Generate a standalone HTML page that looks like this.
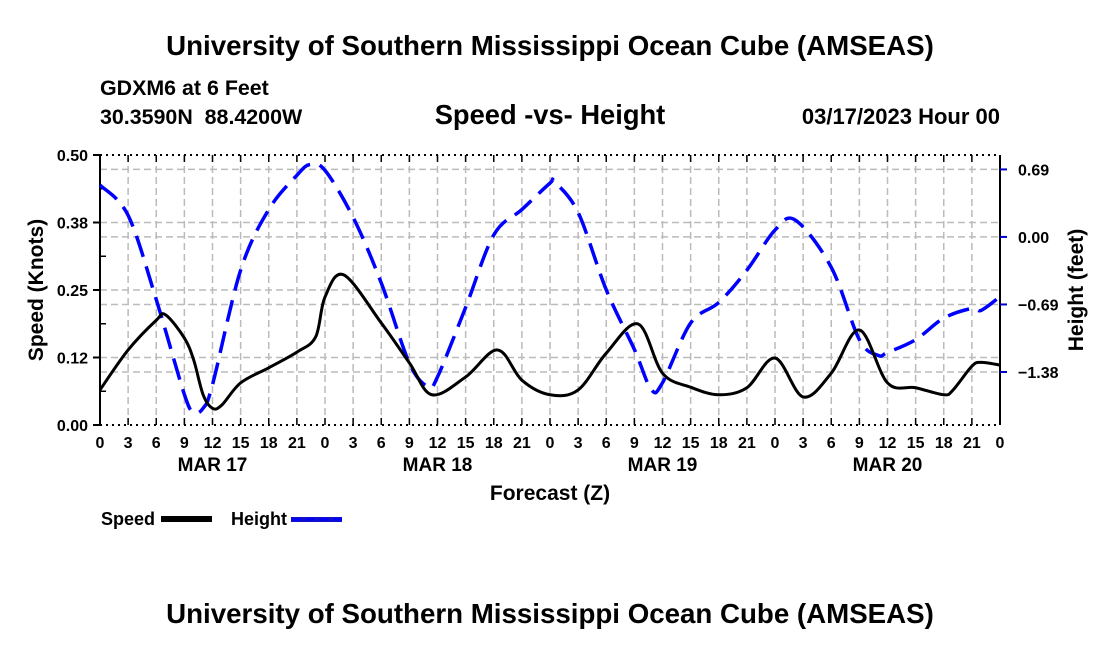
<!DOCTYPE html>
<html><head><meta charset="utf-8"><style>
html,body{margin:0;padding:0;background:#fff;}
svg{display:block;font-family:"Liberation Sans",sans-serif;font-weight:bold;}
</style></head><body>
<svg id="chart" width="1100" height="650" viewBox="0 0 1100 650">
<text x="550" y="55" text-anchor="middle" font-size="27.7">University of Southern Mississippi Ocean Cube (AMSEAS)</text>
<text x="100" y="95" font-size="21.4">GDXM6 at 6 Feet</text>
<text x="100" y="124" font-size="21.4" xml:space="preserve" style="white-space:pre">30.3590N  88.4200W</text>
<text x="550" y="124" text-anchor="middle" font-size="27.3">Speed -vs- Height</text>
<text x="1000" y="124" text-anchor="end" font-size="22">03/17/2023 Hour 00</text>
<g id="grid"></g>
<g id="axes"></g>
<g id="series"></g>
<text x="550" y="500" text-anchor="middle" font-size="21">Forecast (Z)</text>
<text transform="translate(43,290) rotate(-90)" text-anchor="middle" font-size="21">Speed (Knots)</text>
<text transform="translate(1083,290) rotate(-90)" text-anchor="middle" font-size="21">Height (feet)</text>
<g>
<text x="101" y="525" font-size="18">Speed</text>
<rect x="161" y="516" width="51" height="6" fill="#000"/>
<text x="231" y="525" font-size="18">Height</text>
<rect x="291" y="517" width="51" height="5" fill="#11c"/>
<line x1="291" y1="519.5" x2="342" y2="519.5" stroke="#00f" stroke-width="2" stroke-dasharray="10,4"/>
</g>
<text x="550" y="623" text-anchor="middle" font-size="27.7">University of Southern Mississippi Ocean Cube (AMSEAS)</text>
</svg>
<script>
const speedHours=[0,3,6,7,9,10,11,12,13,15,18,21,23,24,26,30,33,35.4,39,42.4,45,48,51,54,57.4,60,63,66,69,72,75,78,81,84,87,90,91,93,94,96];
const speedVals=[0.065,0.139,0.194,0.204,0.161,0.12,0.056,0.031,0.037,0.078,0.106,0.135,0.163,0.237,0.278,0.189,0.115,0.056,0.089,0.139,0.083,0.056,0.065,0.133,0.187,0.096,0.070,0.056,0.069,0.124,0.052,0.096,0.176,0.078,0.069,0.056,0.065,0.109,0.116,0.111];
const heightHours=[0,3,6,9,10,11,12,15,18,21,22.4,24,27,30,33,35,36,39,42,45,48,48.5,51,54,57,58.8,60,63,66,69,72,74.2,78,81,83,84,87,90,93,94,96];
const heightVals=[0.53,0.22,-0.64,-1.61,-1.79,-1.75,-1.51,-0.34,0.28,0.63,0.74,0.68,0.20,-0.47,-1.29,-1.53,-1.43,-0.72,0.02,0.28,0.55,0.56,0.25,-0.54,-1.15,-1.56,-1.49,-0.88,-0.67,-0.34,0.07,0.17,-0.31,-1.05,-1.21,-1.18,-1.05,-0.83,-0.73,-0.75,-0.61];
const speedTicks=[0,0.125,0.25,0.375,0.5];
const speedTickLabels=["0.00","0.12","0.25","0.38","0.50"];
const heightTicks=[0.69,0,-0.69,-1.38];
const heightTickLabels=["0.69","0.00","\u22120.69","\u22121.38"];
const hourLabels=["0","3","6","9","12","15","18","21"];
const dayLabels=["MAR 17","MAR 18","MAR 19","MAR 20"];

const L=100,R=1000,T=155,B=425;
const xS=h=>L+(h/96)*(R-L);
const yS=v=>B-(v/0.5)*(B-T);
const hMin=-1.9218,hMax=0.8373;
const yH=v=>B-(v-hMin)/(hMax-hMin)*(B-T);
const NS="http://www.w3.org/2000/svg";
function mk(tag,attrs,parent){const e=document.createElementNS(NS,tag);for(const k in attrs)e.setAttribute(k,attrs[k]);parent.appendChild(e);return e;}
const grid=document.getElementById('grid'),axes=document.getElementById('axes'),series=document.getElementById('series');

for(let h=3;h<96;h+=3){const l=mk('line',{x1:xS(h),x2:xS(h),y1:T,y2:B,stroke:'#bbb','stroke-width':1.5,'stroke-dasharray':'7,4'},grid);

}
speedTicks.slice(1,4).forEach(v=>{const l=mk('line',{x1:L,x2:R,y1:yS(v),y2:yS(v),stroke:'#bbb','stroke-width':1.5,'stroke-dasharray':'7,4'},grid);

});
heightTicks.forEach(v=>{const l=mk('line',{x1:L,x2:R,y1:yH(v),y2:yH(v),stroke:'#bbb','stroke-width':1.5,'stroke-dasharray':'7,4'},grid);

});

mk('line',{x1:L,x2:L,y1:T,y2:B,stroke:'#000','stroke-width':2},axes);
mk('line',{x1:R,x2:R,y1:T,y2:B,stroke:'#000','stroke-width':2},axes);
mk('line',{x1:L,x2:R,y1:T,y2:T,stroke:'#000','stroke-width':2,'stroke-dasharray':'2,4'},axes);
mk('line',{x1:L,x2:R,y1:B,y2:B,stroke:'#000','stroke-width':2,'stroke-dasharray':'2,4'},axes);
for(let h=0;h<=96;h+=3){
 mk('line',{x1:xS(h),x2:xS(h),y1:B,y2:B-7,stroke:'#000','stroke-width':1.5},axes);
 mk('line',{x1:xS(h),x2:xS(h),y1:T,y2:T+7,stroke:'#000','stroke-width':1.5},axes);
 const t=mk('text',{x:xS(h),y:B+23,'text-anchor':'middle','font-size':16},axes);
 t.textContent=hourLabels[(h/3)%8];
 
 
}
dayLabels.forEach((d,i)=>{const t=mk('text',{x:xS(12+24*i),y:B+46,'text-anchor':'middle','font-size':19},axes);t.textContent=d;

});
speedTicks.forEach((v,i)=>{mk('line',{x1:L-7,x2:L,y1:yS(v),y2:yS(v),stroke:'#000','stroke-width':2},axes);
 if(i<4)mk('line',{x1:L,x2:L+6,y1:yS(v+0.0625),y2:yS(v+0.0625),stroke:'#000','stroke-width':1.5},axes);
 const t=mk('text',{x:L-12,y:yS(v)+6,'text-anchor':'end','font-size':16},axes);t.textContent=speedTickLabels[i];
 
 });
heightTicks.forEach((v,i)=>{mk('line',{x1:R,x2:R+7,y1:yH(v),y2:yH(v),stroke:'#00c','stroke-width':2},axes);
 const t=mk('text',{x:R+18,y:yH(v)+6,'font-size':16},axes);t.textContent=heightTickLabels[i];
 
 });

function smooth(pts){let d='M'+pts[0][0]+','+pts[0][1];
 for(let i=0;i<pts.length-1;i++){const p0=pts[i-1]||pts[i],p1=pts[i],p2=pts[i+1],p3=pts[i+2]||p2;
  d+=' C'+(p1[0]+(p2[0]-p0[0])/6)+','+(p1[1]+(p2[1]-p0[1])/6)+' '+(p2[0]-(p3[0]-p1[0])/6)+','+(p2[1]-(p3[1]-p1[1])/6)+' '+p2[0]+','+p2[1];}
 return d;}
const hp=mk('path',{d:smooth(heightHours.map((h,i)=>[xS(h),yH(heightVals[i])])),fill:'none',stroke:'#00f','stroke-width':3.5,'stroke-dasharray':'22,10'},series);


const sp=mk('path',{d:smooth(speedHours.map((h,i)=>[xS(h),yS(speedVals[i])])),fill:'none',stroke:'#000','stroke-width':3},series);


</script>
</body></html>
